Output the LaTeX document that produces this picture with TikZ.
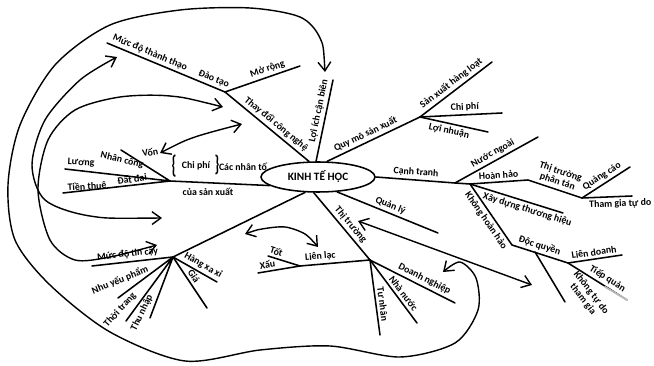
\documentclass[tikz,border=0pt]{standalone}
\usepackage{fontspec}
\setmainfont{Carlito}
\usetikzlibrary{arrows.meta,shapes.geometric}

\begin{document}
\begin{tikzpicture}[
    x=0.025cm, y=-0.025cm,
    >={Straight Barb[length=2.2mm,width=3.2mm]},
    br/.style={line width=1.1pt, line cap=round},
    curv/.style={line width=1pt, line cap=round},
    lbl/.style={font=\bfseries\fontsize{7}{7.5}\selectfont, inner sep=0pt, align=center},
    onl/.style={lbl, sloped, above=1.8pt},
    unl/.style={lbl, sloped, below=1.8pt},
    hub/.style={draw, ellipse, line width=1.1pt, minimum width=2.85cm, minimum height=0.75cm, inner sep=0pt, font=\bfseries\fontsize{8}{9}\selectfont}
  ]
  \useasboundingbox (0,0) rectangle (654,366);
  \node[hub] (kt) at (318,177) {KINH TẾ HỌC};

  % cac nhan to cua san xuat
  \coordinate (nt) at (170,181);
  \coordinate (von) at (121,150);
  \coordinate (luong) at (65,169);
  \coordinate (tien) at (63,193);
  \draw[br] (kt.190) -- (nt);
  \draw[br] (von) -- (nt) (luong) -- (nt) (tien) -- (nt);
  \node[lbl] (l-cnt) at (243,167) {Các nhân tố};
  \node[lbl] (l-csx) at (208,192) {của sản xuất};
  \node[lbl] (l-cp) at (196,166) {Chi phí};
  \node[lbl] (l-bl) at (174,166) {\fontsize{10}{10}\selectfont\scalebox{1}[1.8]{\{}};
  \node[lbl] (l-br) at (217,165) {\fontsize{10}{10}\selectfont\scalebox{1}[1.6]{\}}};
  \node[lbl, rotate=10] (l-von) at (150,152) {Vốn};
  \node[lbl, rotate=-13] (l-nc) at (122,160) {Nhân công};
  \node[lbl, rotate=-3] (l-lg) at (81,163) {Lương};
  \node[lbl, rotate=3] (l-tt) at (87,186) {Tiền thuê};
  \node[lbl, rotate=8] (l-dd) at (132,179) {Đất đai};

  % thay doi cong nghe
  \coordinate (dt) at (225,92);
  \coordinate (mr) at (300,66);
  \coordinate (mt) at (107,43);
  \draw[br] (kt.120) -- node[onl, pos=0.45] (l-td) {Thay đổi công nghệ} (dt)
    -- node[onl, pos=0.12] (l-dt) {Đào tạo} node[onl, pos=0.66] (l-mt) {Mức độ thành thạo} (mt);
  \draw[br] (dt) -- node[onl, pos=0.6] (l-mr) {Mở rộng} (mr);

  % loi ich can bien
  \coordinate (li) at (333,80);
  \draw[br] (kt.97) -- node[onl, pos=0.6] (l-li) {Lợi ích cận biên} (li);

  % quy mo san xuat
  \coordinate (qm) at (420,117);
  \coordinate (sx) at (492,62);
  \coordinate (cp) at (502,113);
  \coordinate (ln) at (488,132);
  \draw[br] (kt.60) -- node[onl, pos=0.45] (l-qm) {Quy mô sản xuất} (qm);
  \draw[br] (qm) -- node[onl, pos=0.5] (l-sx) {Sản xuất hàng loạt} (sx);
  \draw[br] (qm) -- node[onl, pos=0.55] (l-cp2) {Chi phí} (cp);
  \draw[br] (qm) -- node[unl, pos=0.45] (l-ln) {Lợi nhuận} (ln);

  % canh tranh
  \coordinate (ct) at (455,183);
  \coordinate (hh) at (470,184);
  \coordinate (tp) at (528,180);
  \coordinate (tt) at (582,198);
  \coordinate (nn) at (538,137);
  \coordinate (qc) at (630,167);
  \coordinate (tg) at (632,196);
  \coordinate (xd) at (563,213);
  \coordinate (kh) at (512,245);
  \coordinate (dq) at (568,263);
  \coordinate (ld) at (622,255);
  \coordinate (tq1) at (605,287);
  \coordinate (tq) at (627,300);
  \coordinate (kd) at (535,252);
  \coordinate (ktd) at (565,302);
  \draw[br] (kt.east) -- node[onl, pos=0.5] (l-ct) {Cạnh tranh} (ct) -- (hh)
    -- node[onl, pos=0.5] (l-hh) {Hoàn hảo} (tp)
    -- node[onl, pos=0.5] (l-tp) {Thị trường\\phân tán} (tt);
  \draw[br] (ct) -- node[onl, pos=0.5] (l-nn) {Nước ngoài} (nn);
  \draw[br] (tt) -- node[onl, pos=0.5] (l-qc) {Quảng cáo} (qc);
  \draw[br] (tt) -- node[unl, pos=0.76] (l-tg) {Tham gia tự do} (tg);
  \draw[br] (hh) -- node[unl, pos=0.64] (l-xd) {Xây dựng thương hiệu} (xd);
  \draw[br] (hh) -- node[unl, pos=0.53] (l-kh) {Không hoàn hảo} (kh)
    -- node[onl, pos=0.45] (l-dq) {Độc quyền} (dq)
    -- node[onl, pos=0.6] (l-tq) {Tiếp quản} (tq);
  \draw[br, white] (tq1) -- (tq);
  \draw[br, gray!55] (tq1) -- (tq);
  \draw[br] (dq) -- node[onl, pos=0.5] (l-ld) {Liên doanh} (ld);
  \draw[br] (kd) -- (ktd);
  \node[lbl, rotate=-52] (l-ktd) at (587,296) {Không tự do\\tham gia};

  % quan ly
  \coordinate (ql) at (438,233);
  \draw[br] (kt.-38) -- node[onl, pos=0.5] (l-ql) {Quản lý} (ql);
  \coordinate (a1) at (358,221);
  \coordinate (a2) at (532,285);
  \draw[curv, <->] (a1) -- (a2);

  % thi truong
  \coordinate (th) at (370,260);
  \coordinate (ll) at (300,266);
  \coordinate (tot) at (268,256);
  \coordinate (xau) at (258,273);
  \coordinate (dn) at (455,303);
  \coordinate (nnc) at (417,323);
  \coordinate (tn) at (380,335);
  \draw[br] (kt.-105) -- node[onl, pos=0.55] (l-th) {Thị trường} (th)
    -- node[onl, pos=0.7] (l-ll) {Liên lạc} (ll)
    -- node[onl, pos=0.8] (l-tot) {Tốt} (tot);
  \draw[br] (ll) -- node[onl, pos=0.75] (l-xau) {Xấu} (xau);
  \draw[br] (th) -- node[onl, pos=0.6] (l-dn) {Doanh nghiệp} (dn);
  \draw[br] (th) -- node[onl, pos=0.6] (l-nnc) {Nhà nước} (nnc);
  \draw[br] (th) -- node[onl, pos=0.6] (l-tn) {Tư nhân} (tn);
  \coordinate (b1) at (245,234);
  \coordinate (b2) at (318,247);
  \draw[curv, <->] plot[smooth] coordinates {(b1) (262,229) (285,227) (305,234) (b2)};

  % hang xa xi
  \coordinate (hx) at (173,257);
  \coordinate (tc) at (92,266);
  \coordinate (ny) at (118,298);
  \coordinate (tr) at (126,321);
  \coordinate (tnh) at (150,318);
  \coordinate (xx) at (217,282);
  \coordinate (gia) at (207,308);
  \draw[br] (kt.-130) -- (hx);
  \draw[br] (hx) -- node[onl, pos=0.55] (l-tc) {Mức độ tin cậy} (tc);
  \draw[br] (hx) -- (ny) (hx) -- (tr) (hx) -- (tnh);
  \node[lbl, rotate=22] (l-ny) at (120,280) {Nhu yếu phẩm};
  \node[lbl, rotate=48] (l-tr) at (120,310) {Thời trang};
  \node[lbl, rotate=64] (l-tnh) at (142,313) {Thu nhập};
  \draw[br] (hx) -- node[onl, pos=0.6] (l-xx) {Hàng xa xỉ} (xx);
  \draw[br] (hx) -- node[onl, pos=0.45] (l-gia) {Giá} (gia);

  % cac mui ten cong
  \coordinate (v1) at (160,153);
  \coordinate (v2) at (242,124);
  \draw[curv, <->] plot[smooth] coordinates {(v1) (195,137) (v2)};
  \coordinate (o1) at (325,72);
  \coordinate (o2) at (443,272);
  \draw[curv, <->] plot[smooth] coordinates {(o1) (320,38) (300,17) (250,8) (180,10) (110,25) (55,65) (20,125) (8,185) (15,240) (50,285) (110,332) (185,361) (260,350) (330,346) (400,357) (455,343) (478,310) (476,278) (460,262) (o2)};
  \coordinate (m1) at (162,218);
  \coordinate (m2) at (117,57);
  \draw[curv, <->] plot[smooth] coordinates {(m1) (90,216) (45,200) (32,165) (45,120) (80,80) (m2)};
  \coordinate (n1) at (223,107);
  \coordinate (n2) at (157,245);
  \draw[curv, <->] plot[smooth] coordinates {(n1) (170,96) (120,97) (75,110) (48,140) (38,190) (50,240) (75,260) (110,257) (n2)};
\end{tikzpicture}
\end{document}
